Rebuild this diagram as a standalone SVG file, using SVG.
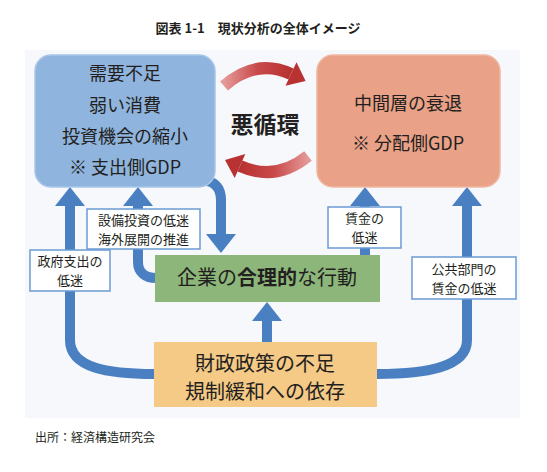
<svg xmlns="http://www.w3.org/2000/svg" width="547" height="472" viewBox="0 0 547 472">
<style>
text{font-family:"Noto Sans CJK JP","Noto Sans",sans-serif;fill:#231f20;}
.box{font-size:18px;text-anchor:middle;}
.big{font-size:20px;text-anchor:middle;}
.lbl{font-size:13px;text-anchor:middle;}
.lb{fill:#ffffff;stroke:#6a9bd3;stroke-width:1.5;}
.conn{fill:none;stroke:#4a80c2;stroke-width:10;}
.red{fill:none;stroke:url(#rg);stroke-width:12;}
</style>
<defs>
<marker id="ah" markerUnits="userSpaceOnUse" markerWidth="20" markerHeight="30" viewBox="0 0 20 30" refX="0" refY="15" orient="auto">
<path d="M0,0 L19,15 L0,30 z" fill="#4a80c2"/>
</marker>
<linearGradient id="rg" x1="0" y1="0" x2="1" y2="0">
<stop offset="0" stop-color="#e49a98"/>
<stop offset="0.5" stop-color="#c9494a"/>
<stop offset="1" stop-color="#b83232"/>
</linearGradient>
<linearGradient id="rg2" x1="1" y1="0" x2="0" y2="0">
<stop offset="0" stop-color="#e49a98"/>
<stop offset="0.5" stop-color="#c9494a"/>
<stop offset="1" stop-color="#b83232"/>
</linearGradient>
</defs>
<rect width="547" height="472" fill="#ffffff"/>
<text x="258" y="33" style="font-size:13px;font-weight:bold;text-anchor:middle;">図表 1-1　現状分析の全体イメージ</text>
<rect x="25" y="50" width="495" height="368" fill="#f6f8fb"/>

<g id="connectors">
<path class="conn" d="M154 374 C108 374 70 368 70 340 L70 206" marker-end="url(#ah)"/>
<path class="conn" d="M377 374 C424 374 467 368 467 340 L467 206" marker-end="url(#ah)"/>
<path class="conn" d="M156 278 C145 278 138 272 138 262 L138 206" marker-end="url(#ah)"/>
<path class="conn" d="M200 180 C215 180 221 188 221 200 L221 234" marker-end="url(#ah)"/>
<path class="conn" d="M365 256 L365 206" marker-end="url(#ah)"/>
<path class="conn" d="M267 343 L267 321" marker-end="url(#ah)"/>
<path class="red" d="M224 86 Q256 58 291 74"/>
<polygon points="285.5,85.8 296.5,62.2 305.6,81" fill="#b83232"/>
<path d="M308 156 Q276 182 240 166" fill="none" stroke="url(#rg2)" stroke-width="12"/>
<polygon points="245.3,154.1 234.7,177.9 225,160" fill="#b83232"/>
</g>

<g id="demand">
<rect x="35" y="55" width="180" height="132" rx="16" fill="#8fb4de" stroke="#a9c6e8" stroke-width="1.5"/>
<text class="box" x="125" y="80">需要不足</text>
<text class="box" x="125" y="112">弱い消費</text>
<text class="box" x="125" y="143">投資機会の縮小</text>
<text class="box" x="125" y="174">※ 支出側GDP</text>
</g>

<g id="middle">
<rect x="317" y="55" width="183" height="132" rx="16" fill="#e9a187" stroke="#f0b8a3" stroke-width="1.5"/>
<text class="box" x="408" y="110">中間層の衰退</text>
<text class="box" x="408" y="150">※ 分配側GDP</text>
</g>

<g id="vicious">
<text x="265" y="133" style="font-size:23px;font-weight:bold;text-anchor:middle;">悪循環</text>
</g>

<g id="firm">
<rect x="155" y="255" width="225" height="47" fill="#8db77a"/>
<text class="big" x="267" y="285">企業の<tspan font-weight="bold">合理的</tspan>な行動</text>
</g>

<g id="policy">
<rect x="154" y="342" width="223" height="65" fill="#f5c986"/>
<text class="big" x="265" y="371"><tspan x="265">財政政策の不足</tspan><tspan x="265" dy="28">規制緩和への依存</tspan></text>
</g>

<g id="label-invest">
<rect class="lb" x="87" y="209" width="113" height="40"/>
<text class="lbl" x="143.5" y="224.5"><tspan x="143.5">設備投資の低迷</tspan><tspan x="143.5" dy="19">海外展開の推進</tspan></text>
</g>

<g id="label-gov">
<rect class="lb" x="30" y="250" width="80" height="41"/>
<text class="lbl" x="70" y="266"><tspan x="70">政府支出の</tspan><tspan x="70" dy="19">低迷</tspan></text>
</g>

<g id="label-wage">
<rect class="lb" x="328" y="207" width="73" height="41"/>
<text class="lbl" x="364.5" y="223"><tspan x="364.5">賃金の</tspan><tspan x="364.5" dy="19">低迷</tspan></text>
</g>

<g id="label-public">
<rect class="lb" x="412" y="257" width="104" height="42"/>
<text class="lbl" x="464" y="273.5"><tspan x="464">公共部門の</tspan><tspan x="464" dy="19">賃金の低迷</tspan></text>
</g>

<text x="35" y="442" style="font-size:12px;">出所：経済構造研究会</text>
</svg>
